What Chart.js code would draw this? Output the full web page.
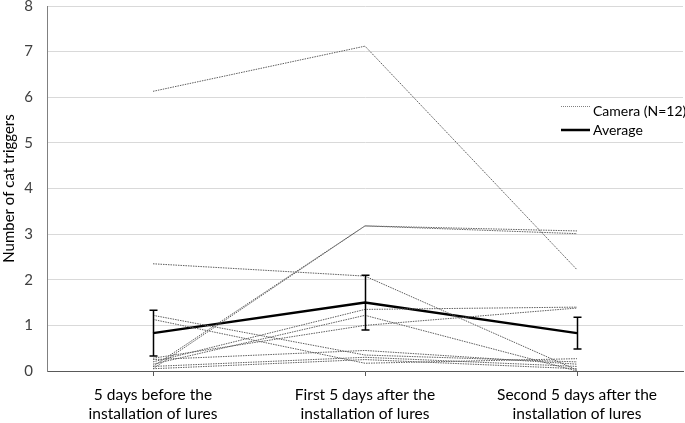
<!DOCTYPE html>
<html>
<head>
<meta charset="utf-8">
<script src="https://cdn.jsdelivr.net/npm/chart.js@4.4.1/dist/chart.umd.min.js"></script>
<style>
  html, body { margin: 0; padding: 0; background: #fff; }
  #wrap { width: 685px; height: 423px; position: relative; }
</style>
</head>
<body>
<div id="wrap"><canvas id="catChart"></canvas></div>
<script>
const periods = [
    ['5 days before the', 'installation of lures'],
    ['First 5 days after the', 'installation of lures'],
    ['Second 5 days after the', 'installation of lures']
];

// one row per camera, values per period
const cameras = [
    [6.13, 7.12, 2.22],
    [2.35, 2.08, 0.02],
    [1.22, 0.35, 0.20],
    [1.13, 0.17, 0.27],
    [0.10, 3.18, 3.07],
    [0.05, 3.18, 3.01],
    [0.20, 1.35, 1.40],
    [0.15, 1.22, 0.00],
    [0.28, 1.00, 1.38],
    [0.25, 0.45, 0.15],
    [0.10, 0.30, 0.10],
    [0.05, 0.25, 0.05]
];

const average = [0.83, 1.50, 0.83];
const averageErr = [0.50, 0.60, 0.35];

const yTicks = [0, 1, 2, 3, 4, 5, 6, 7, 8];

const FONT = 'Lato, "Open Sans", sans-serif';

const errorBars = {
    id: 'errorBars',
    afterDatasetsDraw(chart) {
        const { ctx, scales: { x, y } } = chart;
        ctx.save();
        ctx.strokeStyle = '#000';
        ctx.lineWidth = 1.5;
        average.forEach((v, i) => {
            const px = Math.round(x.getPixelForValue(i)) + 0.5;
            const top = y.getPixelForValue(v + averageErr[i]);
            const bot = y.getPixelForValue(v - averageErr[i]);
            ctx.beginPath();
            ctx.moveTo(px, top); ctx.lineTo(px, bot);
            ctx.moveTo(px - 4, top); ctx.lineTo(px + 4, top);
            ctx.moveTo(px - 4, bot); ctx.lineTo(px + 4, bot);
            ctx.stroke();
        });
        ctx.restore();
    }
};

const sideLegend = {
    id: 'sideLegend',
    afterDraw(chart) {
        const ctx = chart.ctx;
        const x0 = chart.chartArea.right - 122;
        ctx.save();
        ctx.font = '14px ' + FONT;
        ctx.fillStyle = '#000';
        ctx.textBaseline = 'middle';

        ctx.strokeStyle = '#808080';
        ctx.lineWidth = 1;
        ctx.setLineDash([1, 1]);
        ctx.beginPath();
        ctx.moveTo(x0, 106.5); ctx.lineTo(x0 + 29, 106.5);
        ctx.stroke();
        ctx.fillText('Camera (N=12)', x0 + 32, 111);

        ctx.setLineDash([]);
        ctx.strokeStyle = '#000';
        ctx.lineWidth = 2.5;
        ctx.beginPath();
        ctx.moveTo(x0, 130); ctx.lineTo(x0 + 29, 130);
        ctx.stroke();
        ctx.fillText('Average', x0 + 32, 130);
        ctx.restore();
    }
};

const datasets = cameras.map((vals, i) => ({
    label: 'Camera ' + (i + 1),
    data: vals,
    borderColor: '#5e5e5e',
    borderWidth: 1,
    borderDash: [1.5, 1],
    pointRadius: 0,
    fill: false,
    tension: 0
}));

datasets.push({
    label: 'Average',
    data: average,
    borderColor: '#000',
    borderWidth: 2.5,
    pointRadius: 0,
    fill: false,
    tension: 0
});

new Chart(document.getElementById('catChart'), {
    type: 'line',
    data: { labels: periods, datasets: datasets },
    options: {
        responsive: true,
        maintainAspectRatio: false,
        animation: false,
        layout: { padding: { top: 6, right: 2, left: 0, bottom: 0 } },
        plugins: {
            legend: { display: false },
            tooltip: { enabled: false }
        },
        scales: {
            x: {
                offset: true,
                grid: {
                    offset: false,
                    drawOnChartArea: false,
                    drawTicks: true,
                    tickLength: 5,
                    color: '#595959'
                },
                border: { color: '#595959', width: 1 },
                ticks: {
                    color: '#000',
                    font: { family: FONT, size: 15.5, lineHeight: 1.25 },
                    padding: 9,
                    maxRotation: 0,
                    autoSkip: false
                },
                afterFit(scale) {
                    scale.height = 52;
                    scale.paddingLeft = 0;
                    scale.paddingRight = 0;
                }
            },
            y: {
                min: 0,
                max: 8,
                afterBuildTicks(scale) {
                    scale.ticks = yTicks.map(v => ({ value: v }));
                },
                grid: { color: '#d9d9d9', drawTicks: false },
                border: { color: '#808080', width: 1 },
                ticks: {
                    color: '#404040',
                    font: { family: FONT, size: 15 },
                    padding: 14
                },
                title: {
                    display: true,
                    text: 'Number of cat triggers',
                    color: '#000',
                    font: { family: FONT, size: 15 },
                    padding: 0
                },
                afterFit(scale) {
                    scale.width = 47;
                    scale.paddingTop = 0;
                    scale.paddingBottom = 0;
                }
            }
        }
    },
    plugins: [errorBars, sideLegend]
});
</script>
</body>
</html>
